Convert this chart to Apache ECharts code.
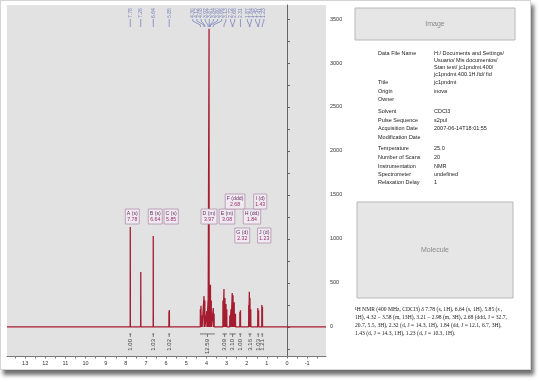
<!DOCTYPE html>
<html><head><meta charset="utf-8">
<script src="https://cdn.jsdelivr.net/npm/echarts@6/dist/echarts.min.js"></script>
<style>
html,body{margin:0;padding:0;background:#fff;width:539px;height:382px;overflow:hidden}
#frame{position:absolute;left:0;top:0;width:529px;height:368px;border:1px solid #d4d4d4;box-shadow:3px 5px 4px #707070;background:#fff}
#chart{position:absolute;left:0;top:0;width:539px;height:382px}
</style></head><body><div id="frame"></div><div id="chart"></div>
<script>
// ---- data ----
const peakPpm    = [7.78, 7.26, 6.64, 5.86, 5.84, 4.30, 4.27, 4.22, 4.12, 4.08, 3.98, 3.92, 3.87, 3.84, 3.80, 3.76, 3.66, 3.62, 3.18, 3.13, 3.08, 3.03, 2.99, 2.84, 2.78, 2.72, 2.68, 2.62, 2.56, 2.34, 2.31, 1.90, 1.87, 1.84, 1.80, 1.45, 1.41, 1.25, 1.22];
const peakHeight = [1136, 625, 1034, 175, 193, 200, 240, 130, 350, 300, 180, 300, 3390, 450, 480, 300, 216, 150, 300, 430, 330, 260, 200, 130, 200, 385, 360, 280, 150, 170, 190, 250, 400, 330, 200, 215, 190, 250, 230];
const pickedPpm  = [7.78, 7.26, 6.64, 5.85, 4.30, 4.12, 4.08, 3.92, 3.87, 3.84, 3.80, 3.66, 3.13, 2.72, 2.68, 2.31, 1.87, 1.84, 1.45, 1.41, 1.23];
const multLetter = ['A', 'B', 'C', 'D', 'E', 'F', 'G', 'H', 'I', 'J'];
const multType   = ['s', 's', 's', 'm', 'm', 'ddd', 'd', 'dd', 'd', 'd'];
const multPpm    = [7.78, 6.64, 5.85, 3.97, 3.08, 2.68, 2.32, 1.84, 1.43, 1.23];
const integralFrom  = [7.83, 6.69, 5.90, 4.32, 3.21, 2.86, 2.38, 1.92, 1.48, 1.28];
const integralTo    = [7.73, 6.59, 5.80, 3.58, 2.98, 2.54, 2.26, 1.76, 1.38, 1.18];
const integralValue = ['1.00', '1.03', '1.02', '12.59', '3.09', '3.10', '1.00', '3.16', '1.03', '1.21'];
const xTickLabels = [13, 12, 11, 10, 9, 8, 7, 6, 5, 4, 3, 2, 1, 0, -1];
const yTickLabels = [0, 500, 1000, 1500, 2000, 2500, 3000, 3500];
const metaLabels = ['Data File Name', 'Title', 'Origin', 'Owner', 'Solvent', 'Pulse Sequence', 'Acquisition Date', 'Modification Date', 'Temperature', 'Number of Scans', 'Instrumentation', 'Spectrometer', 'Relaxation Delay'];
const metaValues = ['H:/ Documents and Settings/\nUsuario/ Mis documentos/\nStan test/ jc1pndmt.400/\njc1pndmt.400.1H.fid/ fid', 'jc1pndmt', 'inova', '', 'CDCl3', 's2pul', '2007-06-14T18:01:55', '', '25.0', '20', 'NMR', 'undefined', '1'];
const nmrLines = [
  '\u00b9H NMR (400 MHz, CDCl3) \u03b4 7.78 (s, 1H), 6.64 (s, 1H), 5.85 (s ,',
  '1H), 4.32 \u2013 3.58 (m, 13H), 3.21 \u2013 2.98 (m, 3H), 2.68 (ddd, J = 32.7,',
  '20.7, 5.5, 3H), 2.32 (d, J = 14.3, 1H), 1.84 (dd, J = 12.1, 6.7, 3H),',
  '1.43 (d, J = 14.3, 1H), 1.23 (d, J = 10.3, 1H).'
];

// ---- build ----
const X_MIN = -1.935, X_MAX = 13.9, Y_MIN = -330, Y_MAX = 3659;
const order = peakPpm.map((p, i) => i).sort((a, b) => peakPpm[b] - peakPpm[a]);
const spec = [[X_MAX, 0]];
order.forEach(i => { const p = peakPpm[i]; spec.push([p + 0.004, 0], [p, peakHeight[i]], [p - 0.004, 0]); });
spec.push([X_MIN, 0]);

// spread picked labels (ppm space)
const labPos = pickedPpm.slice().sort((a, b) => b - a);
const pickSorted = labPos.slice();
const GAP = 0.205;
for (let it = 0; it < 300; it++) {
  for (let i = 0; i < labPos.length - 1; i++) {
    const d = labPos[i] - labPos[i + 1];
    if (d < GAP) { const s = (GAP - d) / 2; labPos[i] += s; labPos[i + 1] -= s; }
  }
}
const pickData = pickSorted.map((p, i) => [p, labPos[i]]);

const mctx = document.createElement('canvas').getContext('2d');
const BOXFONT = '5.2px "Liberation Sans"';
mctx.font = BOXFONT;
const tw = s => mctx.measureText(s).width;

const chart = echarts.init(document.getElementById('chart'), null, {renderer: 'canvas'});
let placed = [];
const pickColor = '#7c84bc';

const sideText = [];
const rowY = [53, 82, 91, 99, 111, 120, 128, 137, 148, 157, 166, 174, 182];
metaLabels.forEach((l, i) => {
  sideText.push({type: 'text', x: 378, y: rowY[i], style: {text: l, font: '5.5px "Liberation Sans"', fill: '#222', verticalAlign: 'middle'}});
  sideText.push({type: 'text', x: 434, y: rowY[i] - 2.9, style: {text: metaValues[i], font: '5.5px "Liberation Sans"', lineHeight: 6.9, fill: '#222', verticalAlign: 'top'}});
});
nmrLines.forEach((l, i) => {
  sideText.push({type: 'text', x: 355, y: 310 + i * 7.7, style: {text: l, font: '5.6px "Liberation Serif"', fill: '#222', verticalAlign: 'middle'}});
});

const option = {
  animation: false,
  grid: {left: 7, right: 213, top: 5, bottom: 26, show: true, backgroundColor: '#e2e2e2', borderWidth: 0},
  xAxis: {
    type: 'value', inverse: true, min: X_MIN, max: X_MAX,
    axisLine: {show: true, onZero: false, lineStyle: {color: '#777', width: 1}},
    axisTick: {show: true, length: 2.5, lineStyle: {color: '#777'}, customValues: [13.5,13,12.5,12,11.5,11,10.5,10,9.5,9,8.5,8,7.5,7,6.5,6,5.5,5,4.5,4,3.5,3,2.5,2,1.5,1,0.5,0,-0.5,-1,-1.5]},
    axisLabel: {customValues: xTickLabels, fontSize: 5.5, color: '#333', margin: 4, fontFamily: 'Liberation Sans', formatter: v => String(v)},
    splitLine: {show: false}
  },
  yAxis: {
    type: 'value', position: 'right', min: Y_MIN, max: Y_MAX,
    axisLine: {show: true, lineStyle: {color: '#666', width: 1}},
    axisTick: {show: true, length: 3, lineStyle: {color: '#666'}, customValues: [-250,0,250,500,750,1000,1250,1500,1750,2000,2250,2500,2750,3000,3250,3500]},
    axisLabel: {customValues: yTickLabels, fontSize: 5.5, color: '#333', margin: 4, fontFamily: 'Liberation Sans', formatter: v => String(v)},
    splitLine: {show: false}
  },
  graphic: {elements: [
    {type: 'rect', shape: {x: 355, y: 8, width: 160, height: 32}, style: {fill: '#e6e6e6', stroke: '#b8b8b8', lineWidth: 1}},
    {type: 'text', x: 435, y: 24, style: {text: 'Image', font: '7px "Liberation Sans"', fill: '#8a8a8a', align: 'center', verticalAlign: 'middle'}},
    {type: 'rect', shape: {x: 357, y: 202, width: 156, height: 96}, style: {fill: '#e6e6e6', stroke: '#b8b8b8', lineWidth: 1}},
    {type: 'text', x: 435, y: 250, style: {text: 'Molecule', font: '7px "Liberation Sans"', fill: '#8a8a8a', align: 'center', verticalAlign: 'middle'}}
  ].concat(sideText)},
  series: [
    {type: 'line', data: spec, showSymbol: false, symbol: 'none', lineStyle: {color: '#a51c30', width: 1.3}, z: 3},
    {type: 'custom', z: 5, data: pickData, renderItem: (params, api) => {
      const px = api.coord([api.value(0), 0])[0];
      const lx = api.coord([api.value(1), 0])[0];
      const top = params.coordSys.y;
      return {type: 'group', children: [
        {type: 'text', x: lx, y: top + 13, rotation: Math.PI / 2, style: {text: api.value(0).toFixed(2), font: '5px "Liberation Sans"', fill: pickColor, align: 'left', verticalAlign: 'middle'}},
        {type: 'polyline', shape: {points: [[lx, top + 14], [lx, top + 16], [px, top + 20], [px, top + 22]]}, style: {stroke: pickColor, lineWidth: 0.8, fill: null}}
      ]};
    }},
    {type: 'custom', z: 6, data: multPpm.map((p, i) => [p, i]), renderItem: (params, api) => {
      const i = api.value(1);
      if (params.dataIndex === 0) placed = [];
      const cx = api.coord([api.value(0), 0])[0] + 2;
      const l1 = multLetter[i] + ' (' + multType[i] + ')';
      const l2 = multPpm[i].toFixed(2);
      const w = Math.max(tw(l1), tw(l2)) + 3;
      const x0 = cx - w / 2, x1 = x0 + w;
      let level = 0;
      for (const lv of [0, 1, -1, 2, -2]) {
        if (!placed.some(b => b.lv === lv && x0 < b.x1 + 1 && x1 > b.x0 - 1)) { level = lv; break; }
      }
      placed.push({lv: level, x0, x1});
      const base = api.coord([0, 1170])[1];
      const topY = level === 0 ? base - 15 : level > 0 ? base - 15 - 15 * level : base + 4 + 19 * (-level - 1);
      return {type: 'group', children: [
        {type: 'rect', shape: {x: x0, y: topY, width: w, height: 15}, style: {fill: '#efeaf0', stroke: '#b592ad', lineWidth: 0.8}},
        {type: 'text', x: x0 + w / 2, y: topY + 4.5, style: {text: l1, font: BOXFONT, fill: '#6a3266', align: 'center', verticalAlign: 'middle'}},
        {type: 'text', x: x0 + w / 2, y: topY + 10.8, style: {text: l2, font: BOXFONT, fill: '#9a2e6e', align: 'center', verticalAlign: 'middle'}}
      ]};
    }},
    {type: 'custom', z: 6, data: integralFrom.map((f, i) => [f, integralTo[i], i]), renderItem: (params, api) => {
      const a = api.coord([api.value(0), 0]);
      const b = api.coord([api.value(1), 0]);
      const y0 = a[1];
      const xc = (a[0] + b[0]) / 2;
      return {type: 'group', children: [
        {type: 'polyline', shape: {points: [[a[0], y0 + 7], [b[0], y0 + 7]]}, style: {stroke: '#555', lineWidth: 0.8, fill: null}},
        {type: 'polyline', shape: {points: [[xc, y0 + 7], [xc, y0 + 10]]}, style: {stroke: '#555', lineWidth: 0.8, fill: null}},
        {type: 'text', x: xc, y: y0 + 12, rotation: Math.PI / 2, style: {text: integralValue[api.value(2)], font: '6px "Liberation Sans"', fill: '#444', align: 'right', verticalAlign: 'middle'}}
      ]};
    }}
  ]
};
chart.setOption(option);
</script></body></html>
